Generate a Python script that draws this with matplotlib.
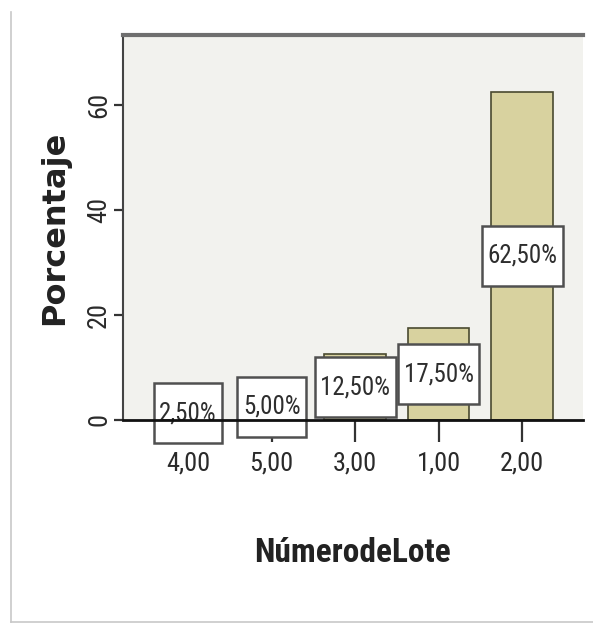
import matplotlib
matplotlib.use("Agg")
import matplotlib.pyplot as plt
import numpy as np
from matplotlib.path import Path
from matplotlib.lines import Line2D

# datos del grafico
lotes = ["4,00", "5,00", "3,00", "1,00", "2,00"]
porcentajes = [2.5, 5.0, 12.5, 17.5, 62.5]
etiquetas = ["2,50%", "5,00%", "12,50%", "17,50%", "62,50%"]
yticks = [0, 20, 40, 60]

narrow = ["Roboto Condensed", "DejaVu Sans"]


def caja(x0, y0, width, height, mutation_size):
    # caja con mas relleno vertical que horizontal
    px = 0.22 * mutation_size
    py = 0.72 * mutation_size
    verts = [(x0 - px, y0 - py), (x0 + width + px, y0 - py),
             (x0 + width + px, y0 + height + py), (x0 - px, y0 + height + py),
             (x0 - px, y0 - py)]
    return Path(verts, closed=True)


fig = plt.figure(figsize=(5.93, 6.27), dpi=100)
fig.patch.set_facecolor("white")
ax = fig.add_axes([123 / 593, (627 - 420) / 627, 460 / 593, 385 / 627])
ax.set_facecolor("#f2f2ee")

x = np.arange(len(lotes))
ax.bar(x, porcentajes, width=0.74, color="#d8d29f", edgecolor="#4a4a30",
       linewidth=1.2, zorder=1)

for xi, v, t in zip(x, porcentajes, etiquetas):
    ax.text(xi, v / 2, t, ha="center", va="center", fontsize=18,
            family=narrow, color="#2e2e2e", zorder=2,
            bbox=dict(boxstyle=caja, facecolor="white", edgecolor="#505050",
                      linewidth=1.8))

ax.set_xlim(-0.78, 4.73)
ax.set_ylim(0, 73.3)
ax.set_xticks(x)
ax.set_xticklabels(lotes, fontsize=19, family=narrow, color="#2a2a2a")
ax.set_yticks(yticks)
ax.set_yticklabels([str(v) for v in yticks], fontsize=19, family=narrow,
                   color="#2a2a2a", rotation=90, va="center")
ax.tick_params(axis="x", length=16, width=1.6, color="#333333", pad=7)
ax.tick_params(axis="y", length=6.5, width=1.6, color="#333333", pad=2)

ax.spines["right"].set_visible(False)
ax.spines["top"].set_color("#6f6f6f")
ax.spines["top"].set_linewidth(3)
ax.spines["left"].set_color("#444444")
ax.spines["left"].set_linewidth(1.5)
ax.spines["bottom"].set_color("#111111")
ax.spines["bottom"].set_linewidth(2)

ax.set_xlabel("NúmerodeLote", fontsize=24, family=narrow, fontweight="bold",
              color="#222222", va="center")
ax.xaxis.set_label_coords(0.5, -0.345)
ax.set_ylabel("Porcentaje", fontsize=23, fontweight="bold", color="#222222",
              va="center", ha="center")
ax.yaxis.set_label_coords(-0.148, 0.5)

# marco exterior
fig.add_artist(Line2D([11 / 593, 11 / 593], [5 / 627, 615 / 627],
                      color="#c8c8c8", linewidth=1.2))
fig.add_artist(Line2D([11 / 593, 1.0], [5 / 627, 5 / 627],
                      color="#c8c8c8", linewidth=1.2))

fig.savefig("out.png", dpi=100)
